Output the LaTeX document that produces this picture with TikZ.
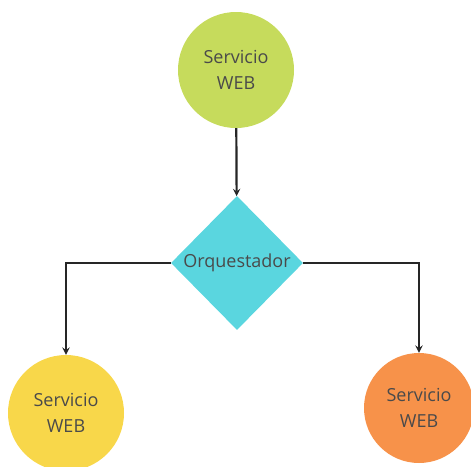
\documentclass[tikz,border=0pt]{standalone}
\usepackage{fontspec}
\setmainfont{Open Sans}
\usetikzlibrary{shapes.geometric}
\definecolor{webgreen}{HTML}{C6DB5C}
\definecolor{orqcyan}{HTML}{5AD6DF}
\definecolor{webyellow}{HTML}{F8D74A}
\definecolor{weborange}{HTML}{F7924A}
\definecolor{txtgray}{HTML}{4A4A4A}
\tikzset{
  servicio/.style={circle, minimum size=#1, inner sep=0pt, align=center,
    text=txtgray, font=\fontsize{18}{26}\selectfont},
  orquest/.style={diamond, fill=orqcyan, minimum width=132pt, minimum height=134pt,
    inner sep=0pt, text=txtgray, font=\fontsize{18}{26}\selectfont},
  flecha/.style={->, line width=2.2pt, draw=black!85}
}
\begin{document}
\begin{tikzpicture}[>=stealth, x=1pt, y=-1pt]
\useasboundingbox (0,0) rectangle (471,466);
\clip (0,0) rectangle (471,466);
\node[servicio=116pt, fill=webgreen] (web) at (236,70) {Servicio\\WEB};
\node[orquest] (orq) at (237,263) {Orquestador};
\node[servicio=116pt, fill=webyellow] (webizq) at (66,413) {Servicio\\WEB};
\node[servicio=110pt, fill=weborange] (webder) at (419,408) {Servicio\\WEB};
\draw[flecha] (web) -- (orq);
\draw[flecha] (orq.west) -| (webizq);
\draw[flecha] (orq.east) -| (webder);
\end{tikzpicture}
\end{document}
